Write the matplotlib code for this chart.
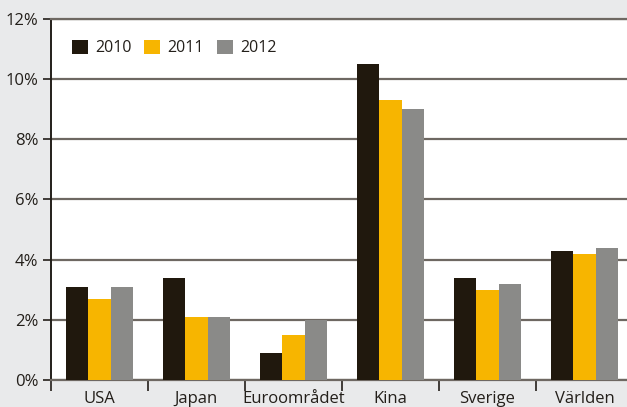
import numpy as np
import matplotlib.pyplot as plt

plt.rcParams['font.family'] = ['Open Sans', 'DejaVu Sans']

# BNP-tillväxt per region och år (procent)
regions = ['USA', 'Japan', 'Euroområdet', 'Kina', 'Sverige', 'Världen']
years = ['2010', '2011', '2012']
g2010 = [3.1, 3.4, 0.9, 10.5, 3.4, 4.3]
g2011 = [2.7, 2.1, 1.5, 9.3, 3.0, 4.2]
g2012 = [3.1, 2.1, 2.0, 9.0, 3.2, 4.4]
yticks = [0, 2, 4, 6, 8, 10, 12]

colors = ['#20180d', '#f7b500', '#8a8a88']
bg = '#e9eaeb'
grid_c = '#6e6862'
text_c = '#231f1a'

fig = plt.figure(figsize=(6.27, 4.07), dpi=100, facecolor=bg)
ax = fig.add_axes([51 / 627, (407 - 380.3) / 407, 576 / 627, 361.8 / 407])
ax.set_facecolor('white')

x = np.arange(len(regions))
w = 0.227
for i, (vals, lab) in enumerate(zip([g2010, g2011, g2012], years)):
    ax.bar(x + (i - 1) * w, vals, width=w, color=colors[i], label=lab,
           zorder=3, linewidth=0)

ax.set_xlim(-0.5, -0.5 + 576 / 97)
ax.set_ylim(0, 12)

ax.set_yticks(yticks)
ax.set_yticklabels([f'{v}%' for v in yticks])
ax.yaxis.grid(True, color=grid_c, linewidth=1.6, zorder=0)
ax.set_axisbelow(True)

ax.set_xticks(x)
ax.set_xticklabels(regions)
ax.set_xticks(np.arange(-0.5, 5.0, 1.0), minor=True)
ax.tick_params(axis='x', which='major', length=0, pad=8, labelsize=12,
               labelcolor=text_c)
ax.tick_params(axis='x', which='minor', length=8, width=1.2, color=text_c)
ax.tick_params(axis='y', length=6, width=1.2, color=text_c, pad=3,
               labelsize=12, labelcolor=text_c)

ax.spines['right'].set_visible(False)
ax.spines['top'].set_color(grid_c)
ax.spines['top'].set_linewidth(1.6)
ax.spines['bottom'].set_color(grid_c)
ax.spines['bottom'].set_linewidth(1.6)
ax.spines['left'].set_color(text_c)
ax.spines['left'].set_linewidth(1.4)

leg = ax.legend(loc='center left', bbox_to_anchor=(0.0365, 0.918),
                ncol=3, frameon=False, fontsize=11.5, borderpad=0,
                borderaxespad=0, handlelength=1.0, handleheight=1.0,
                handletextpad=0.45, columnspacing=0.8)
for t in leg.get_texts():
    t.set_color(text_c)

fig.savefig('out.png', dpi=100, facecolor=bg)
